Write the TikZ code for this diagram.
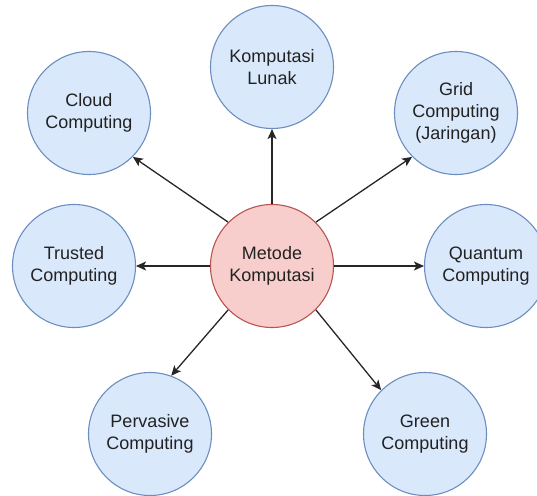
\documentclass[tikz,border=0pt]{standalone}
\usepackage{fontspec}
\setmainfont{Liberation Sans}
\usetikzlibrary{arrows.meta}
\definecolor{bfill}{HTML}{DAE8FC}
\definecolor{bdraw}{HTML}{6C8EBF}
\definecolor{rfill}{HTML}{F8CECC}
\definecolor{rdraw}{HTML}{B85450}
\definecolor{txt}{HTML}{222222}
\tikzset{
  topic/.style={circle, minimum size=123pt, inner sep=0pt, align=center,
    fill=bfill, draw=bdraw, line width=1.1pt, text=txt,
    font=\fontsize{18}{22}\selectfont},
  hub/.style={topic, fill=rfill, draw=rdraw},
  link/.style={line width=1.3pt, draw=black!85,
    -{Stealth[length=10pt,width=9pt,inset=2.5pt]}}
}
\begin{document}
\begin{tikzpicture}[x=1pt,y=-1pt]
\useasboundingbox (0,0) rectangle (537,495);
\node[hub] (m) at (272,266) {Metode\\Komputasi};
\node[topic] (lunak) at (272,67) {Komputasi\\Lunak};
\node[topic] (cloud) at (89,113) {Cloud\\Computing};
\node[topic] (grid) at (456,113) {Grid\\Computing\\(Jaringan)};
\node[topic] (trusted) at (74,266) {Trusted\\Computing};
\node[topic] (quantum) at (486,266) {Quantum\\Computing};
\node[topic] (pervasive) at (150,434) {Pervasive\\Computing};
\node[topic] (green) at (425,434) {Green\\Computing};
\draw[link] (m.north) -- (lunak.south);
\draw[link] (m.135) -- (cloud.-45);
\draw[link] (m.45) -- (grid.-135);
\draw[link] (m.west) -- (trusted.east);
\draw[link] (m.east) -- (quantum.west);
\draw[link] (m.-135) -- (pervasive.70);
\draw[link] (m.-45) -- (green.135);
\end{tikzpicture}
\end{document}
